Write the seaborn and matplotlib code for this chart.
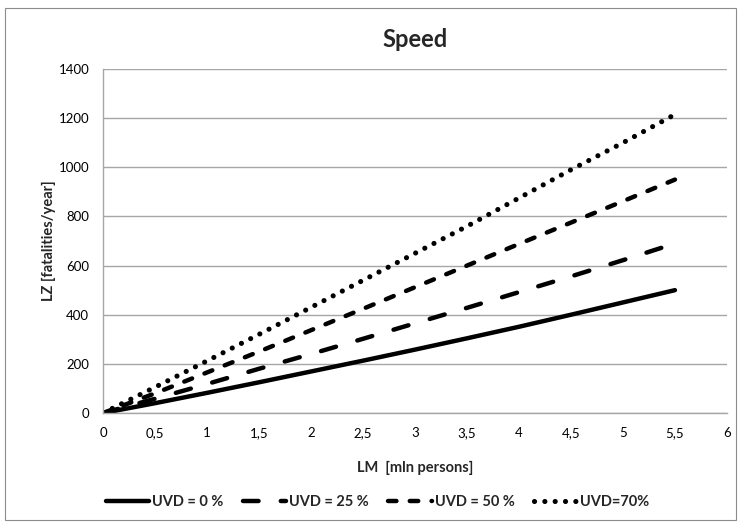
import numpy as np
import pandas as pd
import matplotlib
matplotlib.use("Agg")
import matplotlib.pyplot as plt
import seaborn as sns
from matplotlib.patches import Rectangle
from matplotlib.ticker import FuncFormatter

# --- data ---
lm = [0, 0.5, 1, 1.5, 2, 2.5, 3, 3.5, 4, 4.5, 5, 5.5]
uvd_0 = [0, 40, 82, 125, 169, 213, 258, 304, 351, 400, 450, 500]
uvd_25 = [0, 58, 118, 180, 240, 302, 365, 428, 492, 556, 622, 690]
uvd_50 = [0, 80, 165, 250, 337, 424, 512, 600, 688, 775, 862, 950]
uvd_70 = [0, 105, 212, 320, 430, 540, 650, 760, 875, 990, 1100, 1215]
labels = ["UVD = 0 %", "UVD = 25 %", "UVD = 50 %", "UVD=70%"]

sns.set_style("white")
plt.rcParams['font.family'] = ['Lato', 'DejaVu Sans']

fig = plt.figure(figsize=(7.38, 5.27), dpi=100)
ax = fig.add_axes([0.1396, 0.2163, 0.8454, 0.6527])

# outer chart border
fig.patches.append(Rectangle((0.007, 0.013), 0.99, 0.972, transform=fig.transFigure,
                             fill=False, edgecolor='#8c8c8c', linewidth=0.8))

styles = [
    '-',
    (0, (3.5, 5.0)),
    (0, (1.9, 3.0)),
    (0, (0.01, 2.0)),
]
widths = [3.2, 3.2, 3.2, 3.7]
series = [uvd_0, uvd_25, uvd_50, uvd_70]

for vals, lab, ls, lw in zip(series, labels, styles, widths):
    df = pd.DataFrame({'LM': lm, 'LZ': vals})
    sns.lineplot(data=df, x='LM', y='LZ', ax=ax, color='black', linewidth=lw,
                 linestyle=ls, label=lab, solid_capstyle='round',
                 dash_capstyle='round')

ax.set_xlim(0, 6)
ax.set_ylim(0, 1400)
ax.set_xticks(np.arange(0, 6.01, 0.5))
ax.set_yticks(np.arange(0, 1401, 200))
ax.xaxis.set_major_formatter(FuncFormatter(lambda v, p: f"{v:g}".replace('.', ',')))
ax.grid(axis='y', color='#a6a6a6', linewidth=1.0)
ax.set_axisbelow(True)

for side in ['top', 'right']:
    ax.spines[side].set_visible(False)
for side in ['left', 'bottom']:
    ax.spines[side].set_color('#a6a6a6')
    ax.spines[side].set_linewidth(1.0)

ax.tick_params(axis='both', which='major', length=4, width=1.0, color='#a6a6a6',
               labelsize=9.5, labelcolor='black', direction='out', pad=6)

ax.set_title("Speed", fontsize=17, fontweight='bold', pad=16)
ax.set_xlabel("LM  [mln persons]", fontsize=10.5, fontweight='bold', labelpad=16)
ax.set_ylabel("LZ [fatalities/year]", fontsize=10.5, fontweight='bold', labelpad=2)

leg = ax.legend(loc='upper center', bbox_to_anchor=(0.44, -0.2), ncol=4, frameon=False,
                handlelength=3.0, columnspacing=1.3, handletextpad=0.2,
                prop={'weight': 'bold', 'size': 10.5})

fig.savefig("out.png", dpi=100)
